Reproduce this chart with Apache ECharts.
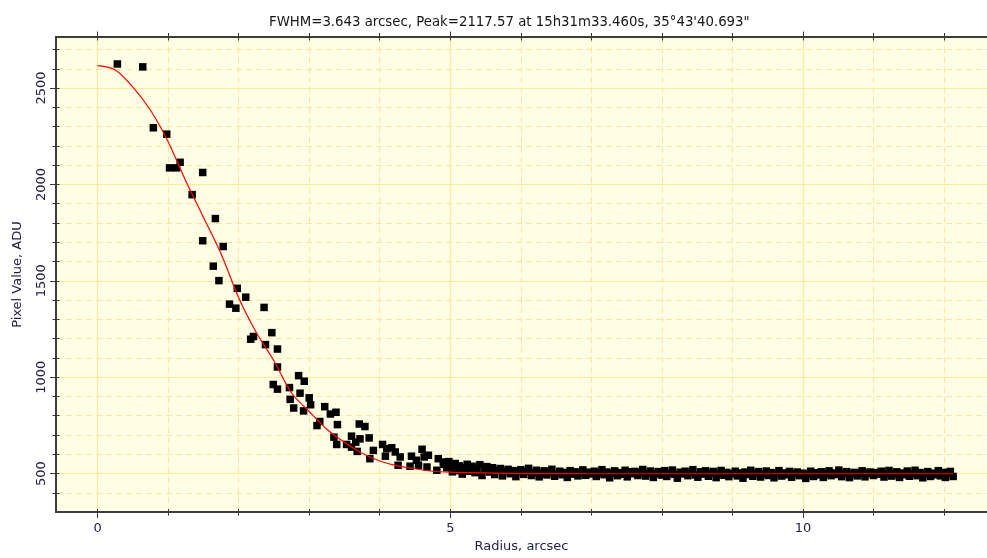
<!DOCTYPE html>
<html>
<head>
<meta charset="utf-8">
<script src="https://cdn.jsdelivr.net/npm/echarts@6/dist/echarts.min.js"></script>
<style>
  html, body { margin: 0; padding: 0; background: #fff; }
  #chart { width: 987px; height: 558px; }
</style>
</head>
<body>
<div id="chart"></div>
<script>
// axis ticks
const xMajorTicks = [0, 5, 10]
const xMinorTicks = [1, 2, 3, 4, 6, 7, 8, 9, 11, 12]
const xAllTicks = [0, 1, 2, 3, 4, 5, 6, 7, 8, 9, 10, 11, 12]
const yMajorTicks = [500, 1000, 1500, 2000, 2500]
const yMinorTicks = [400, 600, 700, 800, 900, 1100, 1200, 1300, 1400, 1600, 1700, 1800, 1900, 2100, 2200, 2300, 2400, 2600, 2700]
const yAllTicks = [400, 500, 600, 700, 800, 900, 1000, 1100, 1200, 1300, 1400, 1500, 1600, 1700, 1800, 1900, 2000, 2100, 2200, 2300, 2400, 2500, 2600, 2700]

// measured pixels, core of the star
const coreRadius = [0.28, 0.64, 0.79, 0.98, 1.02, 1.12, 1.17, 1.34, 1.49, 1.49, 1.67, 1.78, 1.64, 1.72, 1.98, 2.10, 1.87, 1.96, 2.36, 2.47,
  2.17, 2.21, 2.38, 2.55, 2.55, 2.85, 2.93, 2.49, 2.55, 2.72, 2.87, 2.73, 3.00, 3.02, 2.78, 2.92, 3.22, 3.30, 3.38, 3.11,
  3.15, 3.40, 3.71, 3.79, 3.35, 3.39, 3.60, 3.85, 3.66, 3.72, 3.53, 3.60, 3.68, 3.91, 3.86, 4.04, 4.10, 4.17, 4.22, 4.08,
  4.29, 4.26, 4.45, 4.52, 4.60, 4.63, 4.69, 4.43, 4.55, 4.67, 4.83, 4.90, 5.00, 4.81, 5.03]
const coreValue = [2625, 2610, 2294, 2261, 2086, 2086, 2115, 1947, 2062, 1708, 1823, 1678, 1576, 1501, 1461, 1415, 1379, 1358, 1362, 1231,
  1197, 1211, 1169, 1146, 1053, 1008, 979, 962, 938, 946, 917, 885, 893, 857, 840, 825, 847, 809, 818, 749,
  770, 754, 757, 744, 689, 651, 694, 685, 663, 680, 651, 637, 615, 620, 577, 651, 629, 634, 612, 590,
  586, 543, 590, 569, 626, 586, 595, 538, 543, 534, 577, 560, 543, 517, 509]

// measured pixels, sky background
const tailRadius = [4.91, 4.95, 4.98,
  5.04, 5.07, 5.10, 5.13, 5.17, 5.20, 5.24, 5.27, 5.31, 5.35, 5.38, 5.42, 5.45, 5.49, 5.52, 5.56, 5.60, 5.63, 5.67, 5.71, 5.74, 5.78, 5.82, 5.85, 5.89, 5.93, 5.96,
  6.00, 6.04, 6.07, 6.11, 6.15, 6.18, 6.22, 6.26, 6.29, 6.33, 6.37, 6.40, 6.44, 6.48, 6.51, 6.55, 6.59, 6.62, 6.66, 6.70, 6.73, 6.77, 6.81, 6.84, 6.88, 6.92, 6.95,
  7.00, 7.04, 7.07, 7.11, 7.15, 7.18, 7.22, 7.26, 7.29, 7.33, 7.37, 7.40, 7.44, 7.48, 7.51, 7.55, 7.59, 7.62, 7.66, 7.70, 7.73, 7.77, 7.81, 7.84, 7.88, 7.92, 7.95,
  8.00, 8.04, 8.07, 8.11, 8.15, 8.18, 8.22, 8.26, 8.29, 8.33, 8.37, 8.40, 8.44, 8.48, 8.51, 8.55, 8.59, 8.62, 8.66, 8.70, 8.73, 8.77, 8.81, 8.84, 8.88, 8.92, 8.95,
  9.00, 9.04, 9.07, 9.11, 9.15, 9.18, 9.22, 9.26, 9.29, 9.33, 9.37, 9.40, 9.44, 9.48, 9.51, 9.55, 9.59, 9.62, 9.66, 9.70, 9.73, 9.77, 9.81, 9.84, 9.88, 9.92, 9.95,
  10.00, 10.04, 10.07, 10.11, 10.15, 10.18, 10.22, 10.26, 10.29, 10.33, 10.37, 10.40, 10.44, 10.48, 10.51, 10.55, 10.59, 10.62, 10.66, 10.70, 10.73, 10.77, 10.81, 10.84, 10.88, 10.92, 10.95,
  11.00, 11.04, 11.07, 11.11, 11.15, 11.18, 11.22, 11.26, 11.29, 11.33, 11.37, 11.40, 11.44, 11.48, 11.51, 11.55, 11.59, 11.62, 11.66, 11.70, 11.73, 11.77, 11.81, 11.84, 11.88, 11.92, 11.95,
  11.99, 12.02, 12.06, 12.09, 12.13]
const tailValue = [548, 530, 562,
  528, 552, 515, 540, 497, 531, 548, 512, 538, 505, 527, 546, 490, 521, 536, 508, 530, 495, 518, 526, 488, 512, 522, 499, 515, 484, 509,
  520, 496, 511, 527, 490, 505, 517, 483, 501, 514, 493, 508, 522, 486, 499, 512, 494, 506, 480, 515, 497, 509, 488, 503, 519, 491, 507,
  498, 512, 485, 503, 520, 494, 508, 478, 501, 514, 489, 505, 496, 517, 483, 509, 499, 511, 490, 504, 521, 487, 502, 513, 480, 498, 510,
  492, 515, 485, 503, 518, 496, 476, 507, 498, 512, 489, 504, 520, 493, 481, 509, 497, 514, 486, 502, 511, 479, 500, 516, 491, 506, 484,
  499, 512, 488, 503, 476, 508, 495, 517, 486, 501, 510, 482, 497, 513, 490, 505, 478, 500, 515, 487, 503, 494, 511, 481, 499, 508, 489,
  502, 475, 496, 512, 485, 504, 493, 509, 480, 498, 514, 489, 503, 495, 518, 484, 500, 510, 479, 497, 506, 488, 502, 514, 483, 499, 508,
  490, 505, 497, 512, 482, 501, 516, 487, 498, 509, 480, 503, 494, 513, 486, 500, 517, 489, 505, 478, 498, 510, 485, 502, 494, 515, 488,
  506, 480, 499, 511, 485]

// fitted profile (red curve)
const fitRadius = [0, 0.25, 0.5, 0.75, 1.0, 1.25, 1.5, 1.75, 2.0, 2.25, 2.5, 2.75, 3.0, 3.25, 3.5, 3.75, 4.0, 4.25, 4.5, 4.75, 5.0, 5.5, 6.0, 7.0, 8.0, 9.0, 10.0, 11.0, 12.13]
const fitValue = [2616, 2594, 2505, 2385, 2222, 2018, 1830, 1640, 1412, 1232, 1085, 918, 822, 730, 662, 605, 565, 540, 525, 512, 507, 503, 500, 499, 499, 499, 499, 499, 499]

const axisColor = '#3a3a3a'
const labelColor = '#1e1e46'
const font = 'DejaVu Sans'
const xMin = -0.59
const xMax = 12.61
const yMin = 300
const yMax = 2765

function tickAxis(position, values, len, inside, extra) {
  return Object.assign({
    type: 'value',
    position: position,
    min: position === 'left' ? yMin : xMin,
    max: position === 'left' ? yMax : xMax,
    axisLine: { show: true, onZero: false, lineStyle: { color: axisColor, width: 1.5 } },
    axisTick: { show: true, inside: inside, length: len, customValues: values, lineStyle: { color: axisColor, width: 1 } },
    axisLabel: { show: false },
    splitLine: { show: false }
  }, extra || {})
}

const dashed = { show: true, lineStyle: { color: '#fde3a0', width: 1, type: [6, 4] } }
const solid = { show: true, lineStyle: { color: '#fde6a0', width: 1.2, type: 'solid' } }

const chart = echarts.init(document.getElementById('chart'), null, { renderer: 'canvas' })

const option = {
  animation: false,
  backgroundColor: '#ffffff',
  title: {
    text: 'FWHM=3.643 arcsec, Peak=2117.57 at 15h31m33.460s, 35°43\'40.693"',
    left: 264,
    top: 11,
    textStyle: { fontFamily: font, fontSize: 13.3, fontWeight: 'normal', color: '#151515' }
  },
  grid: {
    left: 56, right: 0, top: 37, bottom: 43,
    show: true, backgroundColor: '#fffde4', borderWidth: 0
  },
  xAxis: [
    tickAxis('bottom', xMinorTicks, 3.5, false, { splitLine: dashed }),
    tickAxis('bottom', xMajorTicks, 6, false, {
      splitLine: solid,
      name: 'Radius, arcsec',
      nameLocation: 'middle',
      nameGap: 27,
      nameTextStyle: { fontFamily: font, fontSize: 13, color: labelColor },
      axisLabel: { show: true, customValues: xMajorTicks, margin: 10, fontFamily: font, fontSize: 13, color: labelColor }
    }),
    tickAxis('bottom', xAllTicks, 3, true),
    tickAxis('top', xMinorTicks, 4, false),
    tickAxis('top', xMajorTicks, 5.5, false),
    tickAxis('top', xAllTicks, 3.5, true)
  ],
  yAxis: [
    tickAxis('left', yMinorTicks, 3.5, false, { splitLine: dashed }),
    tickAxis('left', yMajorTicks, 6, false, {
      splitLine: solid,
      name: 'Pixel Value, ADU',
      nameLocation: 'middle',
      nameGap: 32,
      nameTextStyle: { fontFamily: font, fontSize: 13, color: labelColor },
      axisLabel: {
        show: true, customValues: yMajorTicks, rotate: 90, margin: 8,
        fontFamily: font, fontSize: 13, color: labelColor,
        formatter: v => String(v)
      }
    }),
    tickAxis('left', yAllTicks, 3.5, true)
  ],
  series: [
    {
      name: 'Core',
      type: 'scatter',
      xAxisIndex: 1,
      yAxisIndex: 1,
      symbol: 'rect',
      symbolSize: 7.5,
      itemStyle: { color: '#000000', opacity: 1 },
      data: coreRadius.map((r, i) => [r, coreValue[i]])
    },
    {
      name: 'Sky',
      type: 'scatter',
      xAxisIndex: 1,
      yAxisIndex: 1,
      symbol: 'rect',
      symbolSize: 7.5,
      itemStyle: { color: '#000000', opacity: 1 },
      data: tailRadius.map((r, i) => [r, tailValue[i]])
    },
    {
      name: 'Fit',
      type: 'line',
      xAxisIndex: 1,
      yAxisIndex: 1,
      smooth: 0.3,
      symbol: 'none',
      z: 5,
      lineStyle: { color: '#ff0000', width: 1.2 },
      data: fitRadius.map((r, i) => [r, fitValue[i]])
    }
  ]
}

chart.setOption(option)
</script>
</body>
</html>
